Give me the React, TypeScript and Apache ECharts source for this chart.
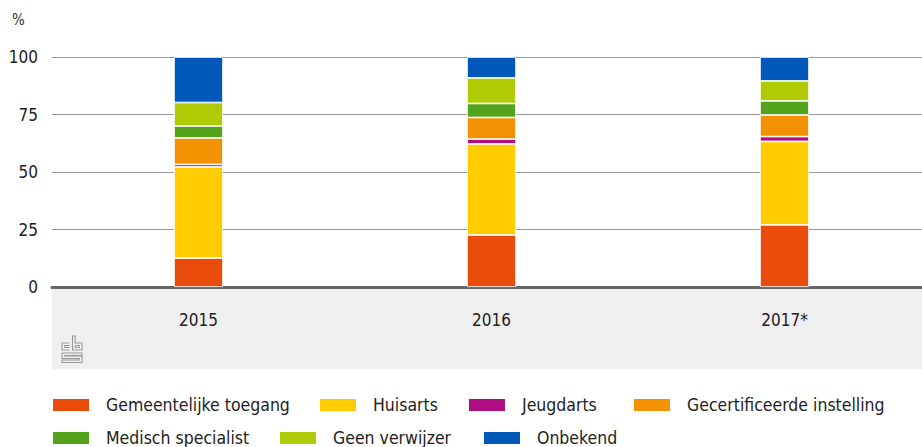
import React, { useEffect, useRef } from "react";
import * as echarts from "echarts";

const categories = ["2015", "2016", "2017*"];
const seriesNames = [
  "Gemeentelijke toegang",
  "Huisarts",
  "Jeugdarts",
  "Gecertificeerde instelling",
  "Medisch specialist",
  "Geen verwijzer",
  "Onbekend",
];
const gemeentelijke = [12.6, 22.6, 27.0];
const huisarts = [39.6, 39.6, 36.3];
const jeugdarts = [1.1, 2.1, 2.1];
const gecertificeerde = [11.5, 9.4, 9.4];
const medisch = [5.2, 6.1, 6.1];
const geenVerwijzer = [10.2, 11.1, 8.7];
const onbekend = [19.8, 9.1, 10.4];
const yTicks = [0, 25, 50, 75, 100];

const colors = ["#e94c0a", "#ffcc00", "#af0e80", "#f39200", "#53a31d", "#afcb05", "#0058b8"];
const values = [gemeentelijke, huisarts, jeugdarts, gecertificeerde, medisch, geenVerwijzer, onbekend];

const FONT = "'DejaVu Sans Condensed', 'DejaVu Sans', sans-serif";

const logoD =
  "M8 8 L1 8 L1 15 L8 15 M8 10.5 L3.5 10.5 L3.5 12.5 L8 12.5 " +
  "M11 1 L11 15 L20 15 L20 8 L13.5 8 L13.5 1 Z M13.5 10.5 L17.5 10.5 L17.5 12.5 L13.5 12.5 Z " +
  "M20 18 L1 18 L1 23.5 L17.5 23.5 L17.5 25 L1 25 L1 27.5 L20 27.5 L20 21 L3.5 21 L3.5 20.5 L20 20.5 Z";

let registered = false;

// legend item positions [left, top]
const legendPos: [number, number][] = [
  [51, 396],
  [318, 396],
  [467, 396],
  [632, 396],
  [51, 429],
  [278, 429],
  [482, 429],
];

export default function App() {
  const ref = useRef<HTMLDivElement>(null);
  useEffect(() => {
    document.body.style.margin = "0";
    document.body.style.overflow = "hidden";
    if (!registered) {
      echarts.graphic.registerShape("logo", echarts.graphic.extendPath(logoD, {}) as any);
      registered = true;
    }
    const chart = echarts.init(ref.current!, null, { renderer: "svg" });
    chart.setOption({
      animation: false,
      textStyle: { fontFamily: FONT },
      grid: { left: 52, top: 57, right: 0, height: 230, containLabel: false },
      legend: seriesNames.map((n, i) => ({
        data: [n],
        left: legendPos[i][0],
        top: legendPos[i][1],
        padding: 0,
        itemWidth: 38,
        itemHeight: 14,
        itemGap: 0,
        icon: "rect",
        selectedMode: false,
        textStyle: { fontFamily: FONT, fontSize: 17.5, lineHeight: 16, color: "#222", padding: [0, 0, 0, 11] },
      })),
      graphic: [
        {
          type: "rect",
          z: -10,
          shape: { x: 52, y: 288, width: 880, height: 81 },
          style: { fill: "#efefef" },
        },
        {
          type: "text",
          left: 12,
          top: 12,
          style: { text: "%", fontSize: 15, fill: "#333", fontFamily: FONT },
        },
        {
          type: "logo",
          x: 61,
          y: 335,
          scaleX: 1.05,
          scaleY: 1,
          style: { fill: "none", stroke: "#999", lineWidth: 1 },
        },
      ],
      xAxis: {
        type: "category",
        data: categories,
        axisLine: { lineStyle: { color: "#666", width: 3 } },
        axisTick: { show: false },
        axisLabel: { color: "#222", fontSize: 17, margin: 24, fontFamily: FONT },
      },
      yAxis: {
        type: "value",
        min: yTicks[0],
        max: yTicks[yTicks.length - 1],
        interval: 25,
        axisLine: { show: false },
        axisTick: { show: false },
        axisLabel: { color: "#222", fontSize: 17, margin: 14, fontFamily: FONT },
        splitLine: { lineStyle: { color: "#999", width: 1 } },
      },
      series: seriesNames.map((n, i) => ({
        name: n,
        type: "bar",
        stack: "total",
        barWidth: 49,
        data: values[i],
        itemStyle: { color: colors[i], borderColor: "#fff", borderWidth: 0.8 },
      })),
    });
    return () => chart.dispose();
  }, []);
  return <div ref={ref} style={{ width: 931, height: 447 }} />;
}
